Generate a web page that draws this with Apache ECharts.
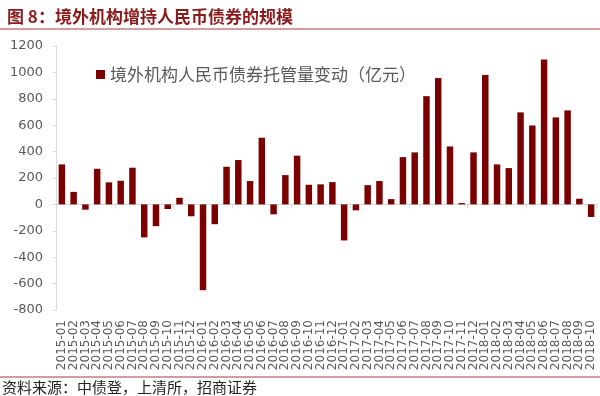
<!DOCTYPE html>
<html><head><meta charset="utf-8">
<script src="https://cdn.jsdelivr.net/npm/echarts@6/dist/echarts.min.js"></script>
<style>html,body{margin:0;padding:0;background:#fff}#c{width:600px;height:396px}</style>
</head><body><div id="c"></div>
<script>
const categories = [
 '2015-01','2015-02','2015-03','2015-04','2015-05','2015-06','2015-07','2015-08','2015-09','2015-10','2015-11','2015-12',
 '2016-01','2016-02','2016-03','2016-04','2016-05','2016-06','2016-07','2016-08','2016-09','2016-10','2016-11','2016-12',
 '2017-01','2017-02','2017-03','2017-04','2017-05','2017-06','2017-07','2017-08','2017-09','2017-10','2017-11','2017-12',
 '2018-01','2018-02','2018-03','2018-04','2018-05','2018-06','2018-07','2018-08','2018-09','2018-10'];
const custodyChange = [
 303, 95, -40, 270, 167, 179, 278, -250, -165, -35, 50, -90,
 -650, -150, 285, 336, 177, 505, -75, 222, 369, 149, 152, 169,
 -273, -45, 146, 177, 40, 358, 394, 820, 957, 439, 10, 394,
 980, 303, 275, 697, 598, 1098, 659, 712, 43, -95];
const seriesName = '境外机构人民币债券托管量变动（亿元）';
const yMin = -800, yMax = 1200, yStep = 200;

const chart = echarts.init(document.getElementById('c'), null, {renderer:'canvas'});
const red = '#7b0000';
chart.setOption({
  animation:false,
  title:{text:'图 8：境外机构增持人民币债券的规模', left:2, top:3,
    textStyle:{fontFamily:'Noto Sans CJK SC', fontWeight:'bold', fontSize:17, color:'#8c1a1a'}},
  legend:{show:true, left:91, top:61, itemWidth:9, itemHeight:9, icon:'rect', itemGap:5,
    textStyle:{fontFamily:'Noto Sans CJK SC', fontSize:17, color:'#595959'}},
  grid:{left:56, right:3, top:46, bottom:86, containLabel:false},
  xAxis:[{type:'category', data:categories,
      axisLine:{onZero:true, lineStyle:{color:'#d9d9d9'}},
      axisTick:{show:true, length:4, lineStyle:{color:'#d9d9d9'}},
      axisLabel:{show:false}},
    {type:'category', data:categories, position:'bottom',
      axisLine:{show:false, onZero:false}, axisTick:{show:false},
      axisLabel:{interval:0, rotate:90, fontSize:12, color:'#595959', fontFamily:'DejaVu Sans', margin:10}}],
  yAxis:{type:'value', min:yMin, max:yMax, interval:yStep,
    axisLine:{show:true, lineStyle:{color:'#d9d9d9'}},
    axisTick:{show:true, length:3, lineStyle:{color:'#d9d9d9'}},
    splitLine:{show:false},
    axisLabel:{fontSize:13, color:'#595959', fontFamily:'DejaVu Sans', margin:13,
      formatter:function(v){return String(v);}}},
  series:[{name:seriesName, type:'bar', data:custodyChange, xAxisIndex:0,
    barWidth:'55%', itemStyle:{color:red}}],
  graphic:[
    {type:'line', shape:{x1:0,y1:29,x2:600,y2:29}, style:{stroke:'#a33a3a', lineWidth:1}},
    {type:'line', shape:{x1:0,y1:377,x2:600,y2:377}, style:{stroke:'#a33a3a', lineWidth:1}},
    {type:'text', left:2, top:380, style:{text:'资料来源：中债登，上清所，招商证券', fontSize:15, fill:'#222', fontFamily:'Noto Sans CJK SC'}}
  ]
});
</script></body></html>
